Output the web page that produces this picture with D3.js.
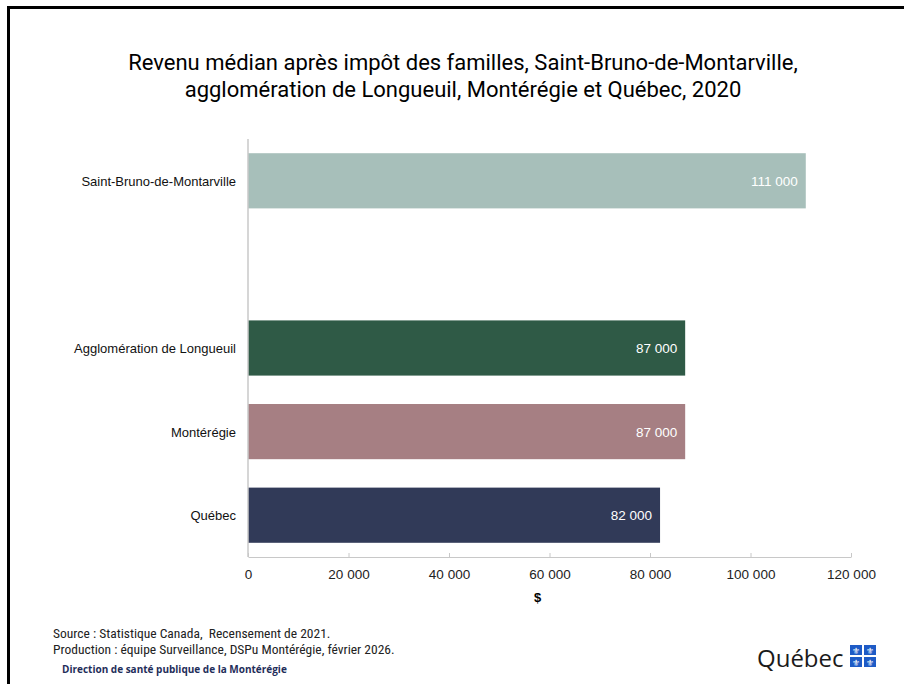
<!DOCTYPE html>
<html><head><meta charset="utf-8">
<script src="https://cdn.jsdelivr.net/npm/d3@7"></script>
<style>body{margin:0;background:#fff}svg{display:block}.pre{white-space:pre}</style>
</head><body>
<script>
const categories = ["Saint-Bruno-de-Montarville", "", "Agglomération de Longueuil", "Montérégie", "Québec"];
const values = [111000, null, 87000, 87000, 82000];
const colors = ["#a7bfba", null, "#2f5a46", "#a67f83", "#313a58"];
const xTicks = [0, 20000, 40000, 60000, 80000, 100000, 120000];
const titleLines = ["Revenu médian après impôt des familles, Saint-Bruno-de-Montarville,", "agglomération de Longueuil, Montérégie et Québec, 2020"];
const sourceLines = ["Source : Statistique Canada,  Recensement de 2021.", "Production : équipe Surveillance, DSPu Montérégie, février 2026."];

const W = 904, H = 684;
const svg = d3.select("body").append("svg").attr("width", W).attr("height", H);
svg.append("rect").attr("width", W).attr("height", H).attr("fill", "#fff");
// frame
svg.append("path").attr("d", `M8.5,${H} V7.5 H${W}`).attr("fill", "none").attr("stroke", "#000").attr("stroke-width", 3);

svg.append("g").selectAll("text").data(titleLines).join("text")
  .attr("x", 463).attr("y", (d, i) => 70 + i * 27)
  .attr("text-anchor", "middle").attr("font-family", "Roboto, sans-serif")
  .attr("font-size", 22).attr("fill", "#000").text(d => d);

const x = d3.scaleLinear().domain([0, 120000]).range([248, 851]);
const y = d3.scaleBand().domain(categories.map((c, i) => i)).range([139, 557]).paddingInner(0.34).paddingOuter(0.17);

const data = categories.map((c, i) => ({c, i, v: values[i], col: colors[i]})).filter(d => d.v != null);

svg.append("g").selectAll("rect").data(data).join("rect")
  .attr("x", x(0)).attr("y", d => y(d.i)).attr("width", d => x(d.v) - x(0)).attr("height", y.bandwidth())
  .attr("fill", d => d.col);

const fmt = v => d3.format(",")(v).replace(/,/g, " ");
svg.append("g").selectAll("text").data(data).join("text")
  .attr("x", d => x(d.v) - 8).attr("y", d => y(d.i) + y.bandwidth() / 2 + 5)
  .attr("text-anchor", "end").attr("fill", "#fff").attr("font-family", "'Liberation Sans', Arial, sans-serif")
  .attr("font-size", 13.5).text(d => fmt(d.v));

// axes
const xAxis = d3.axisBottom(x).tickValues(xTicks).tickFormat(fmt).tickSize(6).tickSizeOuter(0);
const gx = svg.append("g").attr("transform", "translate(0,557)").call(xAxis);
gx.select(".domain").attr("stroke", "#c8c8c8");
gx.selectAll(".tick line").attr("stroke", "#c8c8c8").attr("y1", -4).attr("y2", 0);
gx.selectAll(".tick text").attr("y", 12).attr("font-family", "'Liberation Sans', Arial, sans-serif").attr("font-size", 13.5).attr("fill", "#222");

svg.append("line").attr("x1", x(0)).attr("x2", x(0)).attr("y1", 139).attr("y2", 557).attr("stroke", "#c8c8c8").attr("stroke-width", 1.5);

svg.append("g").selectAll("text").data(categories.map((c, i) => ({c, i})).filter(d => d.c)).join("text")
  .attr("x", 236).attr("y", d => y(d.i) + y.bandwidth() / 2 + 5)
  .attr("text-anchor", "end").attr("font-family", "'Liberation Sans', Arial, sans-serif").attr("font-size", 13)
  .attr("fill", "#111").text(d => d.c);

svg.append("text").attr("x", x(60000) - 12).attr("y", 602).attr("text-anchor", "middle")
  .attr("font-family", "'Liberation Sans', Arial, sans-serif").attr("font-size", 13).attr("font-weight", "bold").text("$");

// footer
svg.append("g").selectAll("text").data(sourceLines).join("text")
  .attr("class", "pre")
  .attr("x", 53).attr("y", (d, i) => 638 + i * 16)
  .attr("font-family", "'Liberation Sans Narrow','Roboto Condensed',Arial,sans-serif").attr("font-size", 13.5).attr("fill", "#222").text(d => d);
svg.append("text").attr("x", 62).attr("y", 673).attr("font-family", "'Open Sans',sans-serif").attr("font-size", 10)
  .attr("font-weight", "bold").attr("fill", "#1f2e5a").text("Direction de santé publique de la Montérégie");

// Québec logo
svg.append("text").attr("x", 757).attr("y", 667).attr("font-family", "'Open Sans',sans-serif")
  .attr("font-size", 24).attr("fill", "#1a1a1a").text("Québec");
const flag = svg.append("g").attr("transform", "translate(850,645)");
[[0,0],[14,0],[0,12],[14,12]].forEach(([dx, dy]) => {
  flag.append("rect").attr("x", dx).attr("y", dy).attr("width", 12).attr("height", 10).attr("fill", "#1e5bc6");
  flag.append("text").attr("x", dx + 6).attr("y", dy + 8.5).attr("text-anchor", "middle").attr("font-size", 9).attr("fill", "#fff").attr("font-family", "DejaVu Sans").text("⚜");
});
</script>
</body></html>
